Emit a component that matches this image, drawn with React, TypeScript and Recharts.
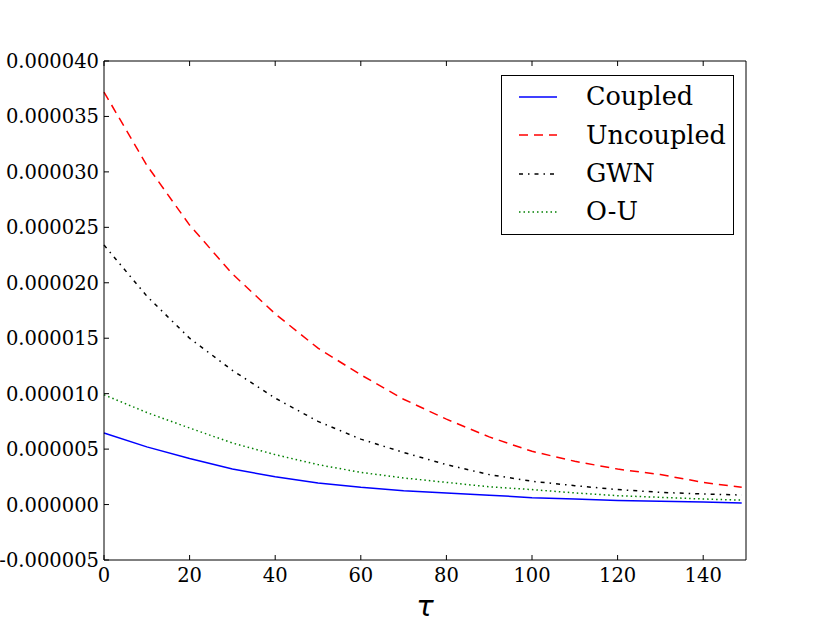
import { LineChart, Line, XAxis, YAxis, Legend } from 'recharts';

// tau values (x axis) and the four series, in units of 1e-6
const taus = [0, 10, 20, 30, 40, 50, 60, 70, 80, 90, 100, 110, 120, 130, 140, 149];
const coupled = [6.45, 5.2, 4.15, 3.2, 2.5, 1.95, 1.55, 1.25, 1.05, 0.85, 0.62, 0.5, 0.36, 0.3, 0.22, 0.13];
const uncoupled = [37.2, 30.6, 25.2, 20.8, 17.2, 14.1, 11.7, 9.5, 7.7, 6.1, 4.8, 3.9, 3.2, 2.7, 2.0, 1.55];
const gwn = [23.4, 18.8, 15.0, 12.1, 9.6, 7.5, 5.9, 4.7, 3.6, 2.7, 2.1, 1.7, 1.35, 1.1, 0.95, 0.86];
const ou = [9.9, 8.3, 6.9, 5.55, 4.5, 3.6, 2.9, 2.4, 2.0, 1.6, 1.35, 1.05, 0.8, 0.65, 0.5, 0.4];

const xTicks = [0, 20, 40, 60, 80, 100, 120, 140];
const yTicks = [-5, 0, 5, 10, 15, 20, 25, 30, 35, 40];

const data = taus.map((t, i) => ({
  tau: t,
  coupled: coupled[i],
  uncoupled: uncoupled[i],
  gwn: gwn[i],
  ou: ou[i],
}));

const SERIES = [
  { key: 'coupled', name: 'Coupled', color: '#0000ff', dash: undefined },
  { key: 'uncoupled', name: 'Uncoupled', color: '#ff0000', dash: '9 6' },
  { key: 'gwn', name: 'GWN', color: '#000000', dash: '4 5 1.5 5' },
  { key: 'ou', name: 'O-U', color: '#008000', dash: '1.5 3' },
];

const FONT = '"DejaVu Serif", serif';
const TICK = 5;

const fmtY = (v: number) => (v * 1e-6).toFixed(6);

function LeftTick({ x, y, payload }: any) {
  return (
    <g>
      <line x1={x} y1={y} x2={x + TICK} y2={y} stroke="#000" />
      <text x={x - 5} y={y} dy="0.36em" textAnchor="end" fontFamily={FONT} fontSize={19.5} fill="#000">
        {fmtY(payload.value)}
      </text>
    </g>
  );
}

function RightTick({ x, y }: any) {
  return <line x1={x} y1={y} x2={x - TICK} y2={y} stroke="#000" />;
}

function BottomTick({ x, y, payload }: any) {
  return (
    <g>
      <line x1={x} y1={y} x2={x} y2={y - TICK} stroke="#000" />
      <text x={x} y={y + 22} textAnchor="middle" fontFamily={FONT} fontSize={19.5} fill="#000">
        {payload.value}
      </text>
    </g>
  );
}

function TopTick({ x, y }: any) {
  return <line x1={x} y1={y} x2={x} y2={y + TICK} stroke="#000" />;
}

function LegendBox() {
  return (
    <div
      style={{
        position: 'absolute',
        left: 501,
        top: 75,
        border: '1px solid #000',
        background: '#fff',
        width: 233,
        height: 160,
        boxSizing: 'border-box',
        padding: '2px 0 0 0',
      }}
    >
      {SERIES.map((s) => (
        <div key={s.key} style={{ display: 'flex', alignItems: 'center', height: 38.3 }}>
          <svg width={84} height={10} style={{ flex: 'none' }}>
            <line x1={17} y1={5} x2={55} y2={5} stroke={s.color} strokeWidth={1.5} strokeDasharray={s.dash} />
          </svg>
          <span style={{ fontFamily: FONT, fontSize: 25.5, color: '#000', lineHeight: 1 }}>{s.name}</span>
        </div>
      ))}
    </div>
  );
}

export default function App() {
  return (
    <div style={{ position: 'absolute', left: 0, top: 0, width: 830, height: 623, background: '#fff' }}>
      <LineChart width={830} height={623} data={data} margin={{ top: 60, right: 83, left: 4, bottom: 1 }}>
        <XAxis
          xAxisId="b"
          dataKey="tau"
          type="number"
          domain={[0, 150]}
          ticks={xTicks}
          height={62}
          tickSize={0}
          tickMargin={0}
          tickLine={false}
          tick={<BottomTick />}
          axisLine={{ stroke: '#000' }}
          interval={0}
        />
        <XAxis
          xAxisId="t"
          orientation="top"
          dataKey="tau"
          type="number"
          domain={[0, 150]}
          ticks={xTicks}
          height={1}
          tickSize={0}
          tickMargin={0}
          tickLine={false}
          tick={<TopTick />}
          axisLine={{ stroke: '#000' }}
          interval={0}
        />
        <YAxis
          yAxisId="l"
          type="number"
          domain={[-5, 40]}
          ticks={yTicks}
          width={100}
          tickSize={0}
          tickMargin={0}
          tickLine={false}
          tick={<LeftTick />}
          axisLine={{ stroke: '#000' }}
          interval={0}
        />
        <YAxis
          yAxisId="r"
          orientation="right"
          type="number"
          domain={[-5, 40]}
          ticks={yTicks}
          width={1}
          tickSize={0}
          tickMargin={0}
          tickLine={false}
          tick={<RightTick />}
          axisLine={{ stroke: '#000' }}
          interval={0}
        />
        <Legend
          layout="vertical"
          align="center"
          verticalAlign="middle"
          content={<LegendBox />}
          wrapperStyle={{ position: 'absolute', left: 0, top: 0, width: 0, height: 0 }}
        />
        {SERIES.map((s) => (
          <Line
            key={s.key}
            xAxisId="b"
            yAxisId="l"
            type="linear"
            dataKey={s.key}
            name={s.name}
            stroke={s.color}
            strokeWidth={1.5}
            strokeDasharray={s.dash}
            dot={false}
            activeDot={false}
            isAnimationActive={false}
          />
        ))}
        <text x={425} y={616} textAnchor="middle" fontFamily='"DejaVu Sans", sans-serif' fontStyle="italic" fontSize={29} fill="#000">
          τ
        </text>
      </LineChart>
    </div>
  );
}
